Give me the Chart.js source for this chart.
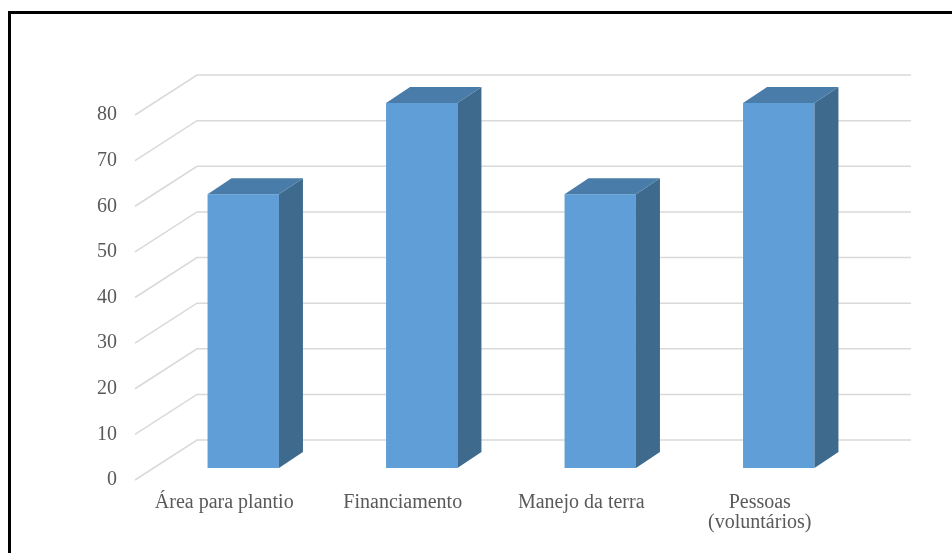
<!DOCTYPE html>
<html>
<head>
<meta charset="utf-8">
<script src="https://cdn.jsdelivr.net/npm/chart.js@4"></script>
<style>
  html, body { margin: 0; padding: 0; background: #fff; overflow: hidden; }
  #wrap { position: relative; width: 952px; height: 553px; }
  #frame { position: absolute; left: 8px; top: 11px; width: 1000px; height: 600px; border: 3px solid #000; box-sizing: border-box; }
  canvas { position: absolute; left: 0; top: 0; }
</style>
</head>
<body>
<div id="wrap">
  <div id="frame"></div>
  <canvas id="barChart" width="952" height="553"></canvas>
</div>
<script>
const categories = ["Área para plantio", "Financiamento", "Manejo da terra", ["Pessoas", "(voluntários)"]];
const values = [60, 80, 60, 80];
const yTicks = [0, 10, 20, 30, 40, 50, 60, 70, 80];

/* 3D look: back wall offset and bar depth */
const wallDx = 43, wallDy = -28;
const floorDx = -19, floorDy = 12;
const barDx = 24, barDy = -16;

const threeD = {
  id: "threeD",
  beforeDatasetsDraw(chart) {
    const ctx = chart.ctx;
    const y = chart.scales.y;
    const area = chart.chartArea;
    ctx.save();
    ctx.strokeStyle = "#d9d9d9";
    ctx.lineWidth = 1.5;
    yTicks.forEach(v => {
      const py = y.getPixelForValue(v);
      ctx.beginPath();
      ctx.moveTo(area.left + floorDx, py + floorDy);
      ctx.lineTo(area.left + wallDx, py + wallDy);
      ctx.lineTo(area.right + wallDx, py + wallDy);
      ctx.stroke();
    });
    ctx.restore();
  },
  afterDatasetsDraw(chart) {
    const ctx = chart.ctx;
    ctx.save();
    chart.getDatasetMeta(0).data.forEach(bar => {
      const l = bar.x - bar.width / 2;
      const r = bar.x + bar.width / 2;
      // side
      ctx.fillStyle = "#3e6a8e";
      ctx.beginPath();
      ctx.moveTo(r, bar.y);
      ctx.lineTo(r + barDx, bar.y + barDy);
      ctx.lineTo(r + barDx, bar.base + barDy);
      ctx.lineTo(r, bar.base);
      ctx.closePath();
      ctx.fill();
      // top
      ctx.fillStyle = "#497ca8";
      ctx.beginPath();
      ctx.moveTo(l, bar.y);
      ctx.lineTo(l + barDx, bar.y + barDy);
      ctx.lineTo(r + barDx, bar.y + barDy);
      ctx.lineTo(r, bar.y);
      ctx.closePath();
      ctx.fill();
    });
    ctx.restore();
  }
};

new Chart(document.getElementById("barChart"), {
  type: "bar",
  data: {
    labels: categories,
    datasets: [
      {
        data: values,
        backgroundColor: "#5f9ed7",
        borderWidth: 0,
        barPercentage: 0.4,
        categoryPercentage: 1
      }
    ]
  },
  options: {
    responsive: false,
    animation: false,
    layout: { padding: { top: 103, right: 84, left: 0, bottom: 0 } },
    plugins: {
      legend: { display: false },
      tooltip: { enabled: false }
    },
    scales: {
      x: {
        grid: { display: false, drawTicks: false },
        border: { display: false },
        afterFit: s => { s.height = 85; },
        ticks: {
          color: "#595959",
          font: { family: "'Liberation Serif', 'Times New Roman', serif", size: 20, lineHeight: 1.0 },
          padding: 25,
          labelOffset: floorDx,
          maxRotation: 0,
          autoSkip: false
        }
      },
      y: {
        min: 0,
        max: 80,
        grid: { display: false, drawTicks: false },
        border: { display: false },
        afterFit: s => { s.width = 154; },
        ticks: {
          stepSize: 10,
          color: "#595959",
          font: { family: "'Liberation Serif', 'Times New Roman', serif", size: 20 },
          padding: 37,
          labelOffset: floorDy
        }
      }
    }
  },
  plugins: [threeD]
});
</script>
</body>
</html>
